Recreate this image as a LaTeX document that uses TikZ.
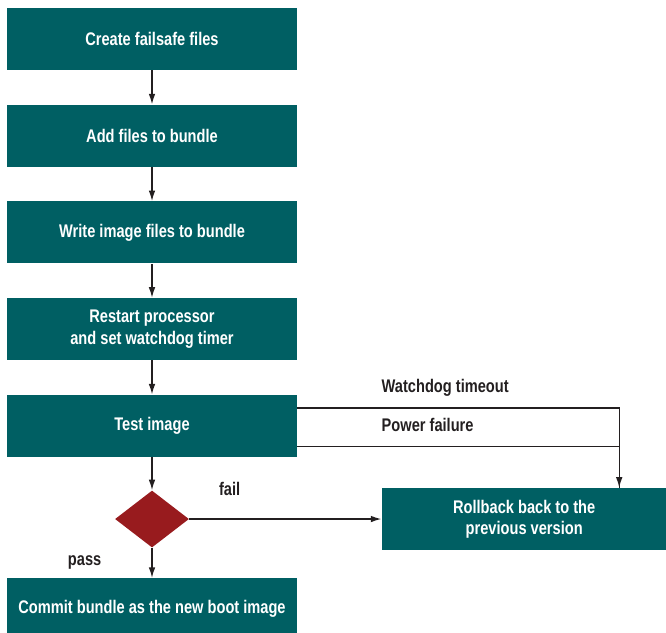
\documentclass[tikz,border=0pt]{standalone}
\usepackage{fontspec}
\setmainfont[FakeStretch=0.8]{Liberation Sans}
\usepackage{xcolor}
\usepackage{tikz}
\usetikzlibrary{shapes.geometric, arrows.meta, positioning}
\definecolor{teal}{HTML}{005F63}
\definecolor{darkred}{HTML}{981B1E}
\definecolor{ink}{HTML}{231F20}

\begin{document}
\begin{tikzpicture}[
  node distance=0.68cm,
  box/.style={rectangle, minimum width=5.8cm, minimum height=1.24cm,
              inner sep=0pt, align=center, fill=teal, text=white,
              font=\fontsize{10.4}{12.2}\selectfont\bfseries},
  decision/.style={diamond, fill=darkred, minimum width=1.48cm,
              minimum height=1.14cm, inner sep=0pt, shape aspect=1.3},
  arrow/.style={-{Latex[length=6pt, width=3.8pt]}, line width=0.8pt, color=ink},
  link/.style={line width=0.8pt, color=ink},
  label/.style={font=\fontsize{10.4}{12.2}\selectfont\bfseries, text=ink, inner sep=0pt},
]
\useasboundingbox (0,0) rectangle (13.32,-12.64);

\node[box] (create) at (3.04,-0.78) {Create failsafe files};

\node[box, below=of create] (add) {Add files to bundle};

\node[box, below=of add] (write) {Write image files to bundle};

\node[box, below=of write] (restart)
  {Restart processor\\and set watchdog timer};

\node[box, below=of restart] (test) {Test image};

\node[decision, below=0.66cm of test] (check) {};

\node[box, below=0.6cm of check] (commit)
  {Commit bundle as the new boot image};

\node[box, right=3.84cm of check, minimum width=5.7cm] (rollback)
  {Rollback back to the\\previous version};

% watchdog / power lines
\coordinate (wd) at ([yshift=0.36cm]test.east);
\coordinate (pf) at ([yshift=-0.41cm]test.east);
\coordinate (drop) at ([xshift=1.9cm]rollback.north);

\node[label, anchor=west] at ([yshift=0.4cm]rollback.west |- wd) {Watchdog timeout};
\node[label, anchor=west] at ([yshift=0.42cm]rollback.west |- pf) {Power failure};

\draw[arrow] (create) -- (add);
\draw[arrow] (add) -- (write);
\draw[arrow] (write) -- (restart);
\draw[arrow] (restart) -- (test);
\draw[arrow] (test) -- (check);
\draw[arrow] (check) -- node[label, pos=0.5, left=1.0cm] {pass} (commit);
\draw[arrow] (check) -- node[label, pos=0.21, above=0.45cm] {fail} (rollback);
\draw[link] (wd) -| (drop);
\draw[arrow] (pf) -| (drop);

\end{tikzpicture}
\end{document}
